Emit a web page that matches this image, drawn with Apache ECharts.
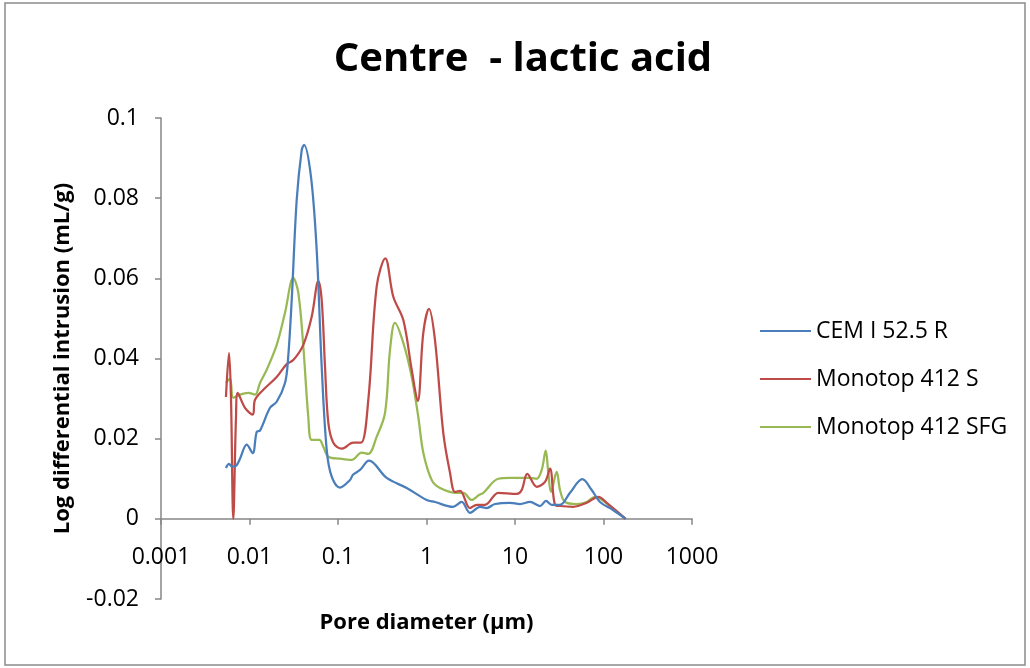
<!DOCTYPE html>
<html>
<head>
<meta charset="utf-8">
<title>Centre - lactic acid</title>
<script src="https://cdn.jsdelivr.net/npm/echarts@6/dist/echarts.min.js"></script>
<style>
  html, body { margin: 0; padding: 0; background: #ffffff; }
  #chart { width: 1030px; height: 668px; }
</style>
</head>
<body>
<div id="chart"></div>
<script>
// Pore size distribution, centre of specimens after lactic acid exposure
// Each point: [pore diameter (µm), log differential intrusion (mL/g)]
const seriesNames = ['CEM I 52.5 R', 'Monotop 412 S', 'Monotop 412 SFG'];

const cemI525R = [
  [0.00542, 0.0127], [0.00587, 0.0137], [0.00634, 0.0130], [0.00704, 0.0132],
  [0.00781, 0.0150], [0.0093, 0.0185], [0.01087, 0.0164], [0.01206, 0.0217],
  [0.01314, 0.0220], [0.01705, 0.0277], [0.02029, 0.0292], [0.02518, 0.0339],
  [0.02723, 0.0397], [0.02999, 0.0546], [0.03415, 0.0796], [0.03889, 0.0920],
  [0.0413, 0.0933], [0.04953, 0.0853], [0.05745, 0.0670], [0.06543, 0.0380],
  [0.07454, 0.0172], [0.08489, 0.0105], [0.1053, 0.0078], [0.1367, 0.0097],
  [0.1477, 0.0110], [0.1773, 0.0122], [0.224, 0.0145], [0.3552, 0.0102],
  [0.5975, 0.0077], [1.005, 0.0047], [1.247, 0.0042], [1.993, 0.0030],
  [2.499, 0.0042], [3.101, 0.0015], [4.023, 0.0030], [4.788, 0.0027],
  [5.943, 0.0037], [8.78, 0.0040], [11.39, 0.0037], [14.77, 0.0042],
  [19.17, 0.0032], [22.4, 0.0045], [25.98, 0.0035], [32.25, 0.0035],
  [41.83, 0.0065], [57.62, 0.0099], [73.57, 0.0072], [91.3, 0.0042],
  [128.0, 0.0022], [178.0, 0.0]
];

const monotop412S = [
  [0.00542, 0.0304], [0.00587, 0.0414], [0.00618, 0.0300], [0.00656, 0.0],
  [0.00704, 0.0254], [0.00736, 0.0314], [0.0089, 0.0277], [0.01087, 0.0260],
  [0.01154, 0.0297], [0.01432, 0.0322], [0.02029, 0.0354], [0.02633, 0.0386],
  [0.03125, 0.0396], [0.04055, 0.0434], [0.05044, 0.0504], [0.0599, 0.0593],
  [0.06543, 0.0546], [0.07131, 0.0380], [0.07771, 0.0240], [0.08851, 0.0190],
  [0.1101, 0.0175], [0.1489, 0.0190], [0.1819, 0.0190], [0.22, 0.0297],
  [0.2737, 0.0580], [0.3424, 0.0650], [0.4216, 0.0554], [0.547, 0.0496],
  [0.6805, 0.0372], [0.7957, 0.0294], [0.9201, 0.0464], [1.067, 0.0524],
  [1.247, 0.0446], [1.548, 0.0214], [1.843, 0.0115], [2.099, 0.0067],
  [2.39, 0.0070], [3.101, 0.0027], [3.692, 0.0035], [4.581, 0.0035],
  [6.477, 0.0065], [10.45, 0.0062], [11.9, 0.0072], [13.77, 0.0112],
  [17.59, 0.0080], [21.83, 0.0092], [24.86, 0.0125], [28.31, 0.0035],
  [32.25, 0.0032], [45.59, 0.0030], [64.6, 0.0040], [87.34, 0.0055],
  [108.7, 0.0040], [178.0, 0.0]
];

const monotop412SFG = [
  [0.00542, 0.0339], [0.00602, 0.0350], [0.00656, 0.0302], [0.00781, 0.0310],
  [0.00969, 0.0314], [0.01154, 0.0310], [0.01314, 0.0339], [0.01564, 0.0372],
  [0.02029, 0.0434], [0.02518, 0.0514], [0.03125, 0.0601], [0.0356, 0.0564],
  [0.04055, 0.0430], [0.04617, 0.0254], [0.05044, 0.0197], [0.06149, 0.0197],
  [0.06823, 0.0180], [0.07771, 0.0155], [0.1053, 0.0150], [0.1428, 0.0147],
  [0.1852, 0.0165], [0.22, 0.0162], [0.2737, 0.0205], [0.3398, 0.0264],
  [0.3869, 0.0421], [0.4407, 0.0489], [0.547, 0.0439], [0.6805, 0.0354],
  [0.808, 0.0254], [0.9201, 0.0165], [1.145, 0.0097], [1.421, 0.0077],
  [2.194, 0.0065], [2.605, 0.0065], [3.241, 0.0047], [3.95, 0.0060],
  [4.384, 0.0065], [6.477, 0.0100], [8.78, 0.0102], [14.77, 0.0102],
  [17.59, 0.0100], [20.03, 0.0122], [22.23, 0.0170], [23.78, 0.0115],
  [25.51, 0.0067], [29.59, 0.0117], [32.25, 0.0072], [36.73, 0.0042],
  [49.81, 0.0037], [64.6, 0.0042], [80.17, 0.0055], [99.47, 0.0045],
  [178.0, 0.0]
];

const xTickLabels = ['0.001', '0.01', '0.1', '1', '10', '100', '1000'];
const yTickLabels = ['-0.02', '0', '0.02', '0.04', '0.06', '0.08', '0.1'];

const colors = ['#4a7ebb', '#be4b48', '#98b954'];
const FONT = '"Open Sans", "DejaVu Sans", sans-serif';
const axisGrey = '#868686';

// Plot frame: value range -0.02..0.1; the diameter axis sits on the zero line,
// so it lives in a companion grid whose bottom edge is y = 0.
const plotLeft = 161, plotTop = 118, plotWidth = 531, plotHeight = 481;
const yMin = -0.02, yMax = 0.1;
const zeroOffset = plotHeight * (yMax - 0) / (yMax - yMin);

const chart = echarts.init(document.getElementById('chart'), null, { renderer: 'canvas' });

const lineSeries = [cemI525R, monotop412S, monotop412SFG].map((data, i) => ({
  name: seriesNames[i],
  type: 'line',
  xAxisIndex: 0,
  yAxisIndex: 0,
  data: data,
  smooth: 0.35,
  symbol: 'none',
  lineStyle: { color: colors[i], width: 2.25 },
  itemStyle: { color: colors[i] },
  emphasis: { disabled: true },
  z: 3 - i
}));

const xLabelFormatter = (v) => {
  const idx = Math.round(Math.log10(v)) + 3;
  return xTickLabels[idx] !== undefined ? xTickLabels[idx] : '';
};

chart.setOption({
  animation: false,
  backgroundColor: '#ffffff',
  graphic: [{
    type: 'rect',
    shape: { x: 5, y: 3, width: 1020, height: 662 },
    style: { fill: 'none', stroke: '#8c8c8c', lineWidth: 1.5 },
    silent: true
  }],
  title: {
    text: 'Centre  - lactic acid',
    left: 518,
    top: 35,
    textAlign: 'center',
    textStyle: { fontFamily: FONT, fontSize: 40, fontWeight: 'bold', color: '#000000' }
  },
  legend: {
    orient: 'vertical',
    left: 760,
    top: 317,
    padding: 0,
    icon: 'rect',
    itemWidth: 51,
    itemHeight: 2,
    itemGap: 20,
    selectedMode: false,
    textStyle: { fontFamily: FONT, fontSize: 23, color: '#000000', lineHeight: 28 },
    data: seriesNames
  },
  grid: [
    { left: plotLeft, top: plotTop, width: plotWidth, height: plotHeight,
      containLabel: false, outerBoundsMode: 'none' },
    { left: plotLeft, top: plotTop, width: plotWidth, height: zeroOffset,
      containLabel: false, outerBoundsMode: 'none' }
  ],
  xAxis: [
    {
      gridIndex: 0,
      type: 'log', logBase: 10, min: 0.001, max: 1000,
      show: false
    },
    {
      gridIndex: 1,
      type: 'log', logBase: 10, min: 0.001, max: 1000,
      position: 'bottom',
      name: 'Pore diameter (µm)',
      nameLocation: 'middle',
      nameGap: 93,
      nameTextStyle: { fontFamily: FONT, fontSize: 22, fontWeight: 'bold', color: '#000000' },
      axisLine: { show: true, onZero: false, lineStyle: { color: axisGrey, width: 1.5 } },
      axisTick: { show: true, inside: false, length: 6, lineStyle: { color: axisGrey, width: 1.5 } },
      minorTick: { show: false },
      splitLine: { show: false },
      axisLabel: { margin: 27, fontFamily: FONT, fontSize: 23, color: '#000000', formatter: xLabelFormatter }
    }
  ],
  yAxis: [
    {
      gridIndex: 0,
      type: 'value',
      min: yMin, max: yMax, interval: 0.02,
      name: 'Log differential intrusion (mL/g)',
      nameLocation: 'middle',
      nameGap: 87,
      nameTextStyle: { fontFamily: FONT, fontSize: 22, fontWeight: 'bold', color: '#000000' },
      axisLine: { show: true, onZero: false, lineStyle: { color: axisGrey, width: 1.5 } },
      axisTick: { show: true, inside: false, length: 6, lineStyle: { color: axisGrey, width: 1.5 } },
      splitLine: { show: false },
      axisLabel: {
        margin: 22, fontFamily: FONT, fontSize: 23, color: '#000000',
        formatter: (v) => {
          const idx = Math.round((v - yMin) / 0.02);
          return yTickLabels[idx] !== undefined ? yTickLabels[idx] : '';
        }
      }
    },
    {
      gridIndex: 1,
      type: 'value', min: 0, max: yMax,
      show: false
    }
  ],
  series: lineSeries
});
</script>
</body>
</html>
